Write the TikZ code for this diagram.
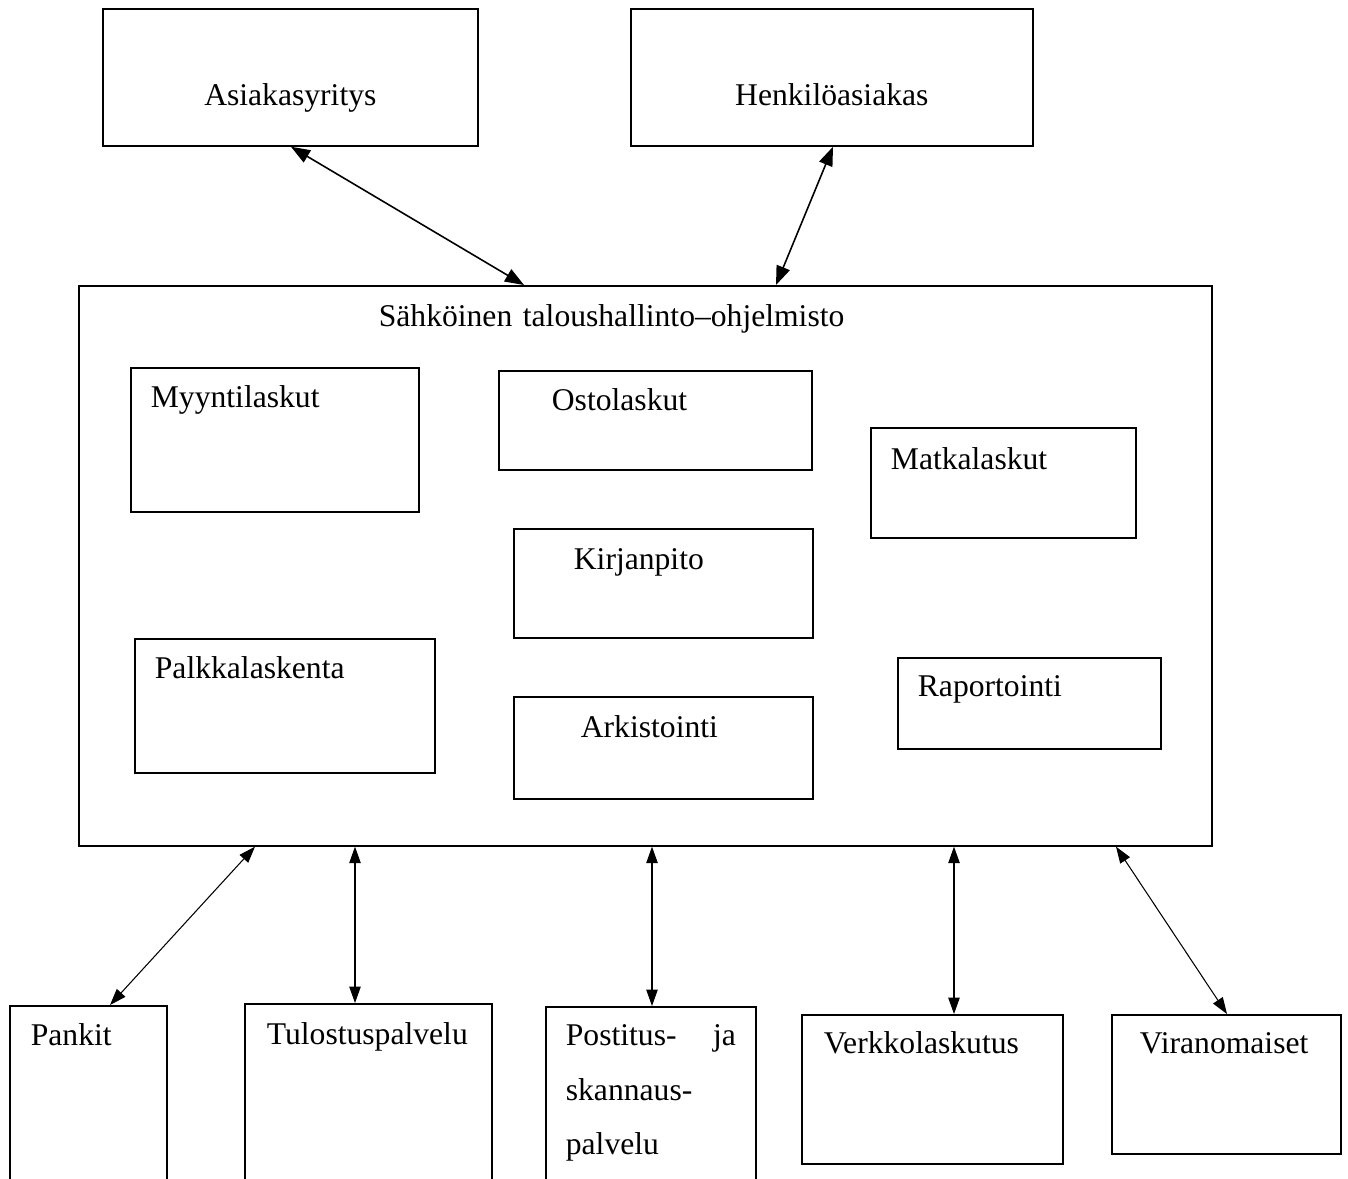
\documentclass[tikz,border=0pt]{standalone}
\usepackage{fontspec}
\setmainfont{Liberation Serif}
\usetikzlibrary{arrows.meta}

\begin{document}
\begin{tikzpicture}[
    x=0.02cm, y=-0.02cm,
    box/.style={rectangle, draw, line width=1pt, anchor=north west, inner ysep=0pt, align=left, font=\fontsize{18}{22}\selectfont},
    topbox/.style={box, inner xsep=0pt, align=center},
    arrow/.style={{Triangle[length=3.8mm, width=2.8mm]}-{Triangle[length=3.8mm, width=2.8mm]}, line width=0.9pt},
    thinarrow/.style={{Triangle[length=3.3mm, width=2.3mm]}-{Triangle[length=3.3mm, width=2.3mm]}, line width=0.6pt}
]
    \useasboundingbox (0,0) rectangle (1348,1178);
    \clip (0,0) rectangle (1348,1178);

    \node[topbox, text width=7.5cm, text height=1.94cm, text depth=0.8cm] (asiakasyritys) at (102,8) {Asiakasyritys};
    \node[topbox, text width=8.04cm, text height=1.94cm, text depth=0.8cm] (henkiloasiakas) at (630,8) {Henkilöasiakas};

    \node[box, inner xsep=6cm, text width=10.66cm, text height=0.82cm, text depth=10.38cm] (ohjelmisto) at (78,285) {Sähköinen taloushallinto–ohjelmisto};
    \node[box, inner xsep=0.4cm, text width=4.96cm, text height=0.8cm, text depth=2.08cm] (myynti) at (130,367) {Myyntilaskut};
    \node[box, inner xsep=1.06cm, text width=4.14cm, text height=0.8cm, text depth=1.18cm] (osto) at (498,370) {Ostolaskut};
    \node[box, inner xsep=0.4cm, text width=4.5cm, text height=0.84cm, text depth=1.36cm] (matka) at (870,427) {Matkalaskut};
    \node[box, inner xsep=1.2cm, text width=3.58cm, text height=0.82cm, text depth=1.36cm] (kirjanpito) at (513,528) {Kirjanpito};
    \node[box, inner xsep=0.4cm, text width=5.2cm, text height=0.8cm, text depth=1.88cm] (palkka) at (134,638) {Palkkalaskenta};
    \node[box, inner xsep=1.34cm, text width=3.3cm, text height=0.82cm, text depth=1.22cm] (arkisto) at (513,696) {Arkistointi};
    \node[box, inner xsep=0.4cm, text width=4.46cm, text height=0.78cm, text depth=1.04cm] (raportti) at (897,657) {Raportointi};

    \node[box, inner xsep=0.42cm, text width=2.3cm, text height=0.8cm, text depth=4.3cm] (pankit) at (9,1005) {Pankit};
    \node[box, inner xsep=0.44cm, text width=4.06cm, text height=0.82cm, text depth=4.3cm] (tulostus) at (244,1003) {Tulostuspalvelu};
    \node[box, inner xsep=0.4cm, text width=3.4cm, text height=0.78cm, text depth=4.3cm, font=\fontsize{18}{31}\selectfont] (postitus) at (545,1006) {Postitus-\hfill ja\\skannaus-\\palvelu};
    \node[box, inner xsep=0.44cm, text width=4.34cm, text height=0.78cm, text depth=2.2cm] (verkko) at (801,1014) {Verkkolaskutus};
    \node[box, inner xsep=0.56cm, text width=3.46cm, text height=0.78cm, text depth=2cm] (viranomaiset) at (1111,1014) {Viranomaiset};

    \draw[arrow] (291,0 |- asiakasyritys.south) -- (524,0 |- ohjelmisto.north);
    \draw[arrow] (833,0 |- henkiloasiakas.south) -- (776,0 |- ohjelmisto.north);
    \draw[thinarrow] (255,0 |- ohjelmisto.south) -- (110,0 |- pankit.north);
    \draw[thinarrow] (355,0 |- ohjelmisto.south) -- (355,0 |- tulostus.north);
    \draw[thinarrow] (652,0 |- ohjelmisto.south) -- (652,0 |- postitus.north);
    \draw[thinarrow] (954,0 |- ohjelmisto.south) -- (954,0 |- verkko.north);
    \draw[thinarrow] (1116,0 |- ohjelmisto.south) -- (1227,0 |- viranomaiset.north);
\end{tikzpicture}
\end{document}
